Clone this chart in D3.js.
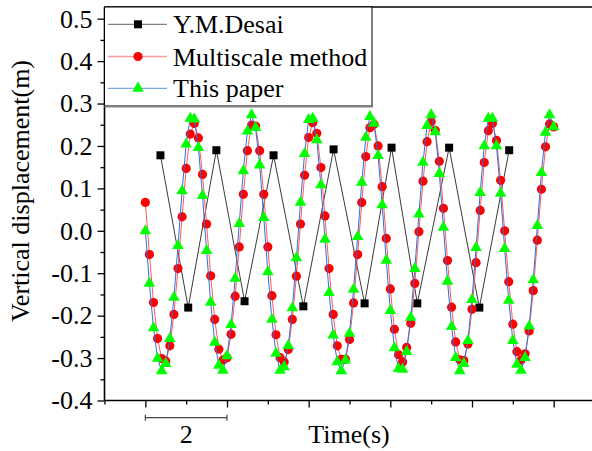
<!DOCTYPE html>
<html><head><meta charset="utf-8">
<script src="https://cdn.jsdelivr.net/npm/d3@7/dist/d3.min.js"></script>
<style>
body{margin:0;background:#fff}
svg{display:block}
svg text{font-family:"Liberation Serif","Times New Roman",serif !important;fill:#000}
</style>
</head><body>
<svg id="c" width="592" height="451"></svg>
<script>
// ---- data ----
const seriesNames = ["Y.M.Desai", "Multiscale method", "This paper"];
const desaiTime = [0.37,1.05,1.74,2.43,3.14,3.87,4.61,5.37,6.03,6.66,7.44,8.18,8.91];
const desaiValue = [0.178,-0.181,0.190,-0.166,0.178,-0.178,0.192,-0.171,0.196,-0.171,0.196,-0.181,0.190];
const sampleTime = [0.0,0.1,0.2,0.3,0.4,0.5,0.6,0.7,0.8,0.9,1.0,1.1,1.2,1.3,1.4,1.5,1.6,1.7,1.8,1.9,
  2.0,2.1,2.2,2.3,2.4,2.5,2.6,2.7,2.8,2.9,3.0,3.1,3.2,3.3,3.4,3.5,3.6,3.7,3.8,3.9,
  4.0,4.1,4.2,4.3,4.4,4.5,4.6,4.7,4.8,4.9,5.0,5.1,5.2,5.3,5.4,5.5,5.6,5.7,5.8,5.9,
  6.0,6.1,6.2,6.3,6.4,6.5,6.6,6.7,6.8,6.9,7.0,7.1,7.2,7.3,7.4,7.5,7.6,7.7,7.8,7.9,
  8.0,8.1,8.2,8.3,8.4,8.5,8.6,8.7,8.8,8.9,9.0,9.1,9.2,9.3,9.4,9.5,9.6,9.7,9.8,9.9,10.0];
const multiscaleValue = [0.067,-0.056,-0.169,-0.254,-0.301,-0.307,-0.271,-0.197,-0.089,0.033,
  0.147,0.228,0.253,0.219,0.133,0.016,-0.106,-0.209,-0.279,-0.305,
  -0.299,-0.244,-0.154,-0.038,0.086,0.189,0.249,0.247,0.189,0.086,
  -0.038,-0.153,-0.245,-0.299,-0.309,-0.280,-0.209,-0.107,0.016,0.131,
  0.220,0.255,0.230,0.149,0.035,-0.089,-0.197,-0.271,-0.303,-0.303,
  -0.256,-0.170,-0.056,0.067,0.175,0.243,0.251,0.200,0.104,-0.018,
  -0.137,-0.232,-0.292,-0.309,-0.275,-0.218,-0.124,-0.002,0.117,0.210,
  0.257,0.237,0.164,0.053,-0.070,-0.180,-0.262,-0.304,-0.306,-0.267,
  -0.185,-0.075,0.048,0.161,0.236,0.253,0.213,0.119,0.000,-0.120,
  -0.220,-0.285,-0.305,-0.290,-0.236,-0.141,-0.022,0.098,0.198,0.252,0.245];
const thisPaperValue = [0.000,-0.124,-0.229,-0.301,-0.330,-0.313,-0.254,-0.157,-0.035,0.094,
  0.204,0.265,0.263,0.196,0.083,-0.047,-0.169,-0.263,-0.317,-0.329,
  -0.295,-0.221,-0.112,0.017,0.141,0.235,0.273,0.243,0.155,0.031,
  -0.097,-0.209,-0.289,-0.329,-0.321,-0.271,-0.182,-0.064,0.067,0.182,
  0.262,0.265,0.214,0.108,-0.020,-0.146,-0.246,-0.309,-0.330,-0.305,
  -0.242,-0.138,-0.014,0.114,0.220,0.269,0.253,0.177,0.061,-0.070,
  -0.188,-0.276,-0.325,-0.327,-0.285,-0.204,-0.089,0.039,0.161,0.248,
  0.273,0.233,0.135,0.008,-0.119,-0.226,-0.299,-0.330,-0.313,-0.259,
  -0.162,-0.040,0.090,0.200,0.265,0.265,0.200,0.088,-0.042,-0.164,
  -0.259,-0.315,-0.329,-0.299,-0.225,-0.116,0.012,0.137,0.232,0.273,0.245];
const yTicks = [-0.4,-0.3,-0.2,-0.1,0.0,0.1,0.2,0.3,0.4,0.5];
const yMinorTicks = [-0.35,-0.25,-0.15,-0.05,0.05,0.15,0.25,0.35,0.45];
const xMajorTicks = [0,2,4,6,8,10];
const xMinorTicks = [-1,1,3,5,7,9];
const scaleBar = [0, 2];
const scaleBarLabel = "2";
const xTitle = "Time(s)";
const yTitle = "Vertical displacement(m)";

// ---- layout ----
const svg = d3.select("#c");
const L = 104.5, R = 594.5, T = 7, B = 400.5;
const x = d3.scaleLinear().domain([-1, 11]).range([L, R]);
const y = d3.scaleLinear().domain([-0.4, 0.5]).range([B, 18.7]);
const FS = 26;
const SERIF = '"Liberation Serif", "Times New Roman", serif';

// y axis
const gy = svg.append("g").attr("transform", `translate(${L},0)`);
gy.call(d3.axisLeft(y).tickValues(yTicks).tickSize(7).tickPadding(5)
  .tickFormat(d => d.toFixed(1)));
gy.attr("font-family", null).style("font-family", SERIF);
gy.select(".domain").remove();
gy.selectAll(".tick line").attr("stroke", "#000").attr("stroke-width", 1.3);
gy.selectAll(".tick text").attr("font-size", FS).style("font-family", SERIF);
const gym = svg.append("g").attr("transform", `translate(${L},0)`);
gym.call(d3.axisLeft(y).tickValues(yMinorTicks).tickSize(4).tickFormat(""));
gym.select(".domain").remove();
gym.selectAll(".tick line").attr("stroke", "#000").attr("stroke-width", 1.3);

// x axis
const gx = svg.append("g").attr("transform", `translate(0,${B})`);
gx.call(d3.axisBottom(x).tickValues(xMajorTicks).tickSize(7).tickFormat(""));
gx.select(".domain").remove();
gx.selectAll(".tick line").attr("stroke", "#000").attr("stroke-width", 1.3);
const gxm = svg.append("g").attr("transform", `translate(0,${B})`);
gxm.call(d3.axisBottom(x).tickValues(xMinorTicks).tickSize(4).tickFormat(""));
gxm.select(".domain").remove();
gxm.selectAll(".tick line").attr("stroke", "#000").attr("stroke-width", 1.3);

// frame lines
svg.append("line").attr("x1", L).attr("x2", L).attr("y1", T).attr("y2", B)
  .attr("stroke", "#000").attr("stroke-width", 1.6);
svg.append("line").attr("x1", L).attr("x2", 592).attr("y1", B).attr("y2", B)
  .attr("stroke", "#000").attr("stroke-width", 1.6);
svg.append("line").attr("x1", L).attr("x2", 592).attr("y1", T).attr("y2", T)
  .attr("stroke", "#000").attr("stroke-width", 1.6);

// scale bar
const sbY = 417.7;
const sb = svg.append("g").attr("stroke", "#444").attr("stroke-width", 1.2);
sb.append("line").attr("x1", x(scaleBar[0])).attr("x2", x(scaleBar[1])).attr("y1", sbY).attr("y2", sbY);
scaleBar.forEach(v => sb.append("line").attr("x1", x(v)).attr("x2", x(v)).attr("y1", sbY - 3).attr("y2", sbY + 3));
svg.append("text").attr("x", x((scaleBar[0] + scaleBar[1]) / 2)).attr("y", 443)
  .attr("text-anchor", "middle").attr("font-size", FS).style("font-family", SERIF).text(scaleBarLabel);
svg.append("text").attr("x", 349).attr("y", 443)
  .attr("text-anchor", "middle").attr("font-size", FS).style("font-family", SERIF).text(xTitle);
svg.append("text").attr("transform", "translate(29,191) rotate(-90)")
  .attr("text-anchor", "middle").attr("font-size", FS).style("font-family", SERIF).text(yTitle);

// series
const line = d3.line().x(d => x(d[0])).y(d => y(d[1]));
const desai = desaiTime.map((t, i) => [t, desaiValue[i]]);
const multi = sampleTime.map((t, i) => [t, multiscaleValue[i]]);
const paper = sampleTime.map((t, i) => [t, thisPaperValue[i]]);

const sq = d3.symbol(d3.symbolSquare, 64);
const tri = d3.symbol(d3.symbolTriangle, 58);

svg.append("path").attr("d", line(desai)).attr("fill", "none").attr("stroke", "#3a3a3a").attr("stroke-width", 1);
svg.selectAll(".sq").data(desai).enter().append("path")
  .attr("d", sq).attr("transform", d => `translate(${x(d[0])},${y(d[1])})`).attr("fill", "#000");

svg.append("path").attr("d", line(multi)).attr("fill", "none").attr("stroke", "#ff5a5a").attr("stroke-width", 1);
svg.selectAll(".ci").data(multi).enter().append("circle")
  .attr("cx", d => x(d[0])).attr("cy", d => y(d[1])).attr("r", 4.6).attr("fill", "#ff0000");

svg.append("path").attr("d", line(paper)).attr("fill", "none").attr("stroke", "#2f6fdc").attr("stroke-width", 1);
svg.selectAll(".tr").data(paper).enter().append("path")
  .attr("d", tri).attr("transform", d => `translate(${x(d[0])},${y(d[1])})`).attr("fill", "#00ff00");

// legend
const lg = svg.append("g");
lg.append("rect").attr("x", L).attr("y", T).attr("width", 372 - L).attr("height", 106 - T)
  .attr("fill", "#fff").attr("stroke", "#000").attr("stroke-width", 1);
lg.append("line").attr("x1", L).attr("x2", 373).attr("y1", 106.5).attr("y2", 106.5)
  .attr("stroke", "#808080").attr("stroke-width", 2);
const rowsY = [24.3, 56.5, 88.3];
const lineCols = ["#808080", "#ff9a9a", "#7ea6ea"];
seriesNames.forEach((name, i) => {
  const ry = rowsY[i];
  lg.append("line").attr("x1", 108).attr("x2", 167).attr("y1", ry).attr("y2", ry)
    .attr("stroke", lineCols[i]).attr("stroke-width", 1.3);
  if (i === 0) lg.append("path").attr("d", sq).attr("transform", `translate(138,${ry})`).attr("fill", "#000");
  if (i === 1) lg.append("circle").attr("cx", 138).attr("cy", ry).attr("r", 4.6).attr("fill", "#ff0000");
  if (i === 2) lg.append("path").attr("d", tri).attr("transform", `translate(138,${ry})`).attr("fill", "#00ff00");
  lg.append("text").attr("x", 173).attr("y", ry + 9).attr("font-size", FS).style("font-family", SERIF).text(name);
});
</script>
</body></html>
